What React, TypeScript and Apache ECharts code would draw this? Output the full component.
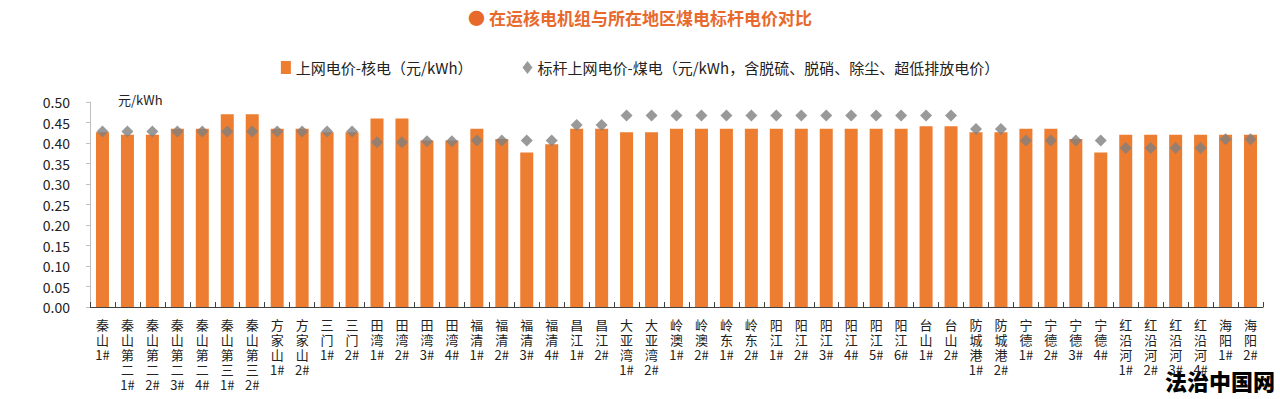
import React, { useEffect, useRef } from "react";
import * as echarts from "echarts";

const categories = [
  "秦山1#", "秦山第二1#", "秦山第二2#", "秦山第二3#", "秦山第二4#", "秦山第三1#", "秦山第三2#",
  "方家山1#", "方家山2#", "三门1#", "三门2#", "田湾1#", "田湾2#", "田湾3#", "田湾4#",
  "福清1#", "福清2#", "福清3#", "福清4#", "昌江1#", "昌江2#", "大亚湾1#", "大亚湾2#",
  "岭澳1#", "岭澳2#", "岭东1#", "岭东2#", "阳江1#", "阳江2#", "阳江3#", "阳江4#", "阳江5#", "阳江6#",
  "台山1#", "台山2#", "防城港1#", "防城港2#", "宁德1#", "宁德2#", "宁德3#", "宁德4#",
  "红沿河1#", "红沿河2#", "红沿河3#", "红沿河4#", "海阳1#", "海阳2#",
];

const nuclearPrice = [
  0.426, 0.42, 0.42, 0.435, 0.435, 0.47, 0.47,
  0.435, 0.435, 0.426, 0.426, 0.46, 0.46, 0.406, 0.406,
  0.435, 0.41, 0.377, 0.397, 0.435, 0.435, 0.426, 0.426,
  0.435, 0.435, 0.435, 0.435, 0.435, 0.435, 0.435, 0.435, 0.435, 0.435,
  0.441, 0.441, 0.426, 0.426, 0.435, 0.435, 0.41, 0.377,
  0.42, 0.42, 0.42, 0.42, 0.42, 0.42,
];

const coalBenchmark = [
  0.428, 0.428, 0.428, 0.428, 0.428, 0.428, 0.428,
  0.428, 0.428, 0.428, 0.428, 0.402, 0.402, 0.404, 0.404,
  0.406, 0.406, 0.406, 0.406, 0.444, 0.444, 0.467, 0.467,
  0.467, 0.467, 0.467, 0.467, 0.467, 0.467, 0.467, 0.467, 0.467, 0.467,
  0.467, 0.467, 0.434, 0.434, 0.406, 0.406, 0.406, 0.406,
  0.388, 0.388, 0.388, 0.388, 0.409, 0.409,
];

const seriesNames = [
  "上网电价-核电（元/kWh）",
  "标杆上网电价-煤电（元/kWh，含脱硫、脱硝、除尘、超低排放电价）",
];

const FONT = "'Noto Sans CJK SC', 'Noto Sans', sans-serif";

function verticalLabel(name: string): string {
  const m = name.match(/^(.*?)(\d+#)$/);
  const head = m ? m[1] : name;
  const tail = m ? m[2] : "";
  const parts = head.split("");
  if (tail) parts.push(tail);
  return parts.join("\n");
}

export default function App() {
  const ref = useRef<HTMLDivElement>(null);

  useEffect(() => {
    document.body.style.margin = "0";
    if (!ref.current) return;
    const chart = echarts.init(ref.current, undefined, { renderer: "svg" });
    chart.setOption({
      animation: false,
      backgroundColor: "#fff",
      title: {
        text: "● 在运核电机组与所在地区煤电标杆电价对比",
        left: "center",
        top: 4,
        textStyle: { color: "#E8692C", fontSize: 17, fontWeight: "bold", fontFamily: FONT },
      },
      legend: {
        top: 55,
        left: "center",
        itemGap: 50,
        itemWidth: 10,
        itemHeight: 13,
        textStyle: { color: "#222", fontSize: 15, fontFamily: FONT },
        data: [
          { name: seriesNames[0], icon: "rect" },
          { name: seriesNames[1], icon: "diamond", itemStyle: { color: "#7F7F7F" } },
        ],
      },
      grid: { left: 90, right: 17, top: 102, bottom: 92, containLabel: false },
      xAxis: {
        type: "category",
        data: categories,
        boundaryGap: true,
        axisLine: { lineStyle: { color: "#404040", width: 1 } },
        axisTick: { show: true, inside: true, length: 5, lineStyle: { color: "#404040" } },
        axisLabel: {
          interval: 0,
          margin: 10,
          color: "#222",
          fontSize: 13,
          lineHeight: 15,
          fontFamily: FONT,
          formatter: (v: string) => verticalLabel(v),
        },
      },
      yAxis: {
        type: "value",
        min: 0,
        max: 0.5,
        interval: 0.05,
        name: "元/kWh",
        nameLocation: "end",
        nameGap: 3,
        nameTextStyle: {
          color: "#222",
          fontSize: 13,
          fontFamily: FONT,
          align: "left",
          verticalAlign: "middle",
          padding: [0, 0, 0, 28],
        },
        splitLine: { show: false },
        axisLine: { show: true, lineStyle: { color: "#BFBFBF" } },
        axisTick: { show: true, inside: false, length: 4, lineStyle: { color: "#BFBFBF" } },
        axisLabel: {
          margin: 20,
          color: "#222",
          fontSize: 14,
          fontFamily: FONT,
          formatter: (v: number) => v.toFixed(2),
        },
      },
      series: [
        {
          name: seriesNames[0],
          type: "bar",
          data: nuclearPrice,
          barWidth: 13,
          itemStyle: { color: "#ED7D31" },
        },
        {
          name: seriesNames[1],
          type: "scatter",
          data: coalBenchmark,
          symbol: "diamond",
          symbolSize: 12,
          itemStyle: { color: "#7F7F7F" },
        },
      ],
      graphic: [
        {
          type: "text",
          right: 5,
          bottom: 8,
          style: {
            text: "法治中国网",
            fill: "#000",
            fontSize: 22,
            fontWeight: 900,
            fontFamily: FONT,
          },
        },
      ],
    });
    return () => chart.dispose();
  }, []);

  return <div ref={ref} style={{ width: 1280, height: 399 }} />;
}
